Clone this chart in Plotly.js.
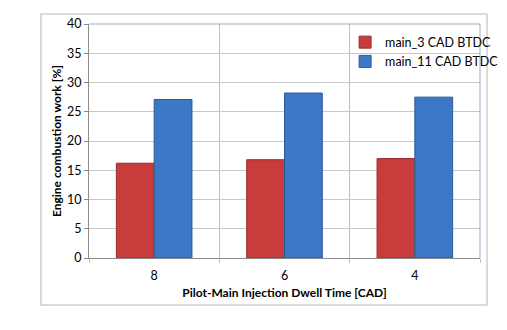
<!DOCTYPE html>
<html>
<head>
<meta charset="utf-8">
<script src="https://cdn.plot.ly/plotly-3.0.1.min.js"></script>
<style>
  html, body { margin: 0; padding: 0; background: #fff; }
  #chart { width: 507px; height: 330px; }
</style>
</head>
<body>
<div id="chart"></div>
<script>
// dwell time categories and combustion work per main injection timing
const dwell_times = ['8', '6', '4']
const main_3_btdc = [16.2, 16.8, 17.0]
const main_11_btdc = [27.1, 28.2, 27.5]

const font_family = 'Lato, "Open Sans", sans-serif'

const traces = [
    {
        type: 'bar',
        name: 'main_3 CAD BTDC',
        x: dwell_times,
        y: main_3_btdc,
        marker: { color: '#c83c3c', line: { color: '#9a2e2e', width: 1 } }
    },
    {
        type: 'bar',
        name: 'main_11 CAD BTDC',
        x: dwell_times,
        y: main_11_btdc,
        marker: { color: '#3c78c6', line: { color: '#2c5a96', width: 1 } }
    }
]

const layout = {
    width: 507,
    height: 330,
    margin: { l: 89, r: 27, t: 24, b: 72, autoexpand: false },
    paper_bgcolor: '#ffffff',
    plot_bgcolor: '#ffffff',
    font: { family: font_family, size: 12, color: '#000' },
    barmode: 'group',
    bargap: 0.42,
    bargroupgap: 0,
    showlegend: true,
    legend: {
        x: 0.655, y: 0.985, xanchor: 'left', yanchor: 'top',
        bgcolor: 'rgba(0,0,0,0)',
        font: { family: font_family, size: 12.5 },
        itemwidth: 30,
        tracegroupgap: 4
    },
    xaxis: {
        type: 'category',
        tickson: 'boundaries',
        ticks: 'outside',
        ticklen: 4,
        tickcolor: '#c0c0c0',
        ticklabelstandoff: 6,
        showgrid: true,
        gridcolor: '#c0c0c0',
        showline: true,
        linecolor: '#8c8c8c',
        linewidth: 1,
        tickfont: { family: font_family, size: 12.5 },
        title: {
            text: '<b>Pilot-Main Injection Dwell Time [CAD]</b>',
            font: { family: font_family, size: 12 },
            standoff: 6
        }
    },
    yaxis: {
        range: [0, 40],
        dtick: 5,
        ticks: 'outside',
        ticklen: 4,
        tickcolor: '#8c8c8c',
        showgrid: true,
        gridcolor: '#c8c8c8',
        showline: true,
        linecolor: '#8c8c8c',
        linewidth: 1,
        zeroline: false,
        tickfont: { family: font_family, size: 12.5 },
        title: {
            text: '<b>Engine combustion work [%]</b>',
            font: { family: font_family, size: 12 },
            standoff: 2
        }
    },
    shapes: [
        // outer chart frame
        {
            type: 'rect', xref: 'paper', yref: 'paper',
            x0: -0.123, x1: 1.018, y0: -0.201, y1: 1.043,
            line: { color: '#cfcfcf', width: 1.5 }, layer: 'below'
        },
        // plot area top and right edges
        {
            type: 'path', xref: 'paper', yref: 'paper',
            path: 'M 0 1 L 1 1 L 1 0',
            line: { color: '#9aabc6', width: 1 }, layer: 'above'
        }
    ]
}

Plotly.newPlot('chart', traces, layout, { displayModeBar: false, staticPlot: true })
</script>
</body>
</html>
